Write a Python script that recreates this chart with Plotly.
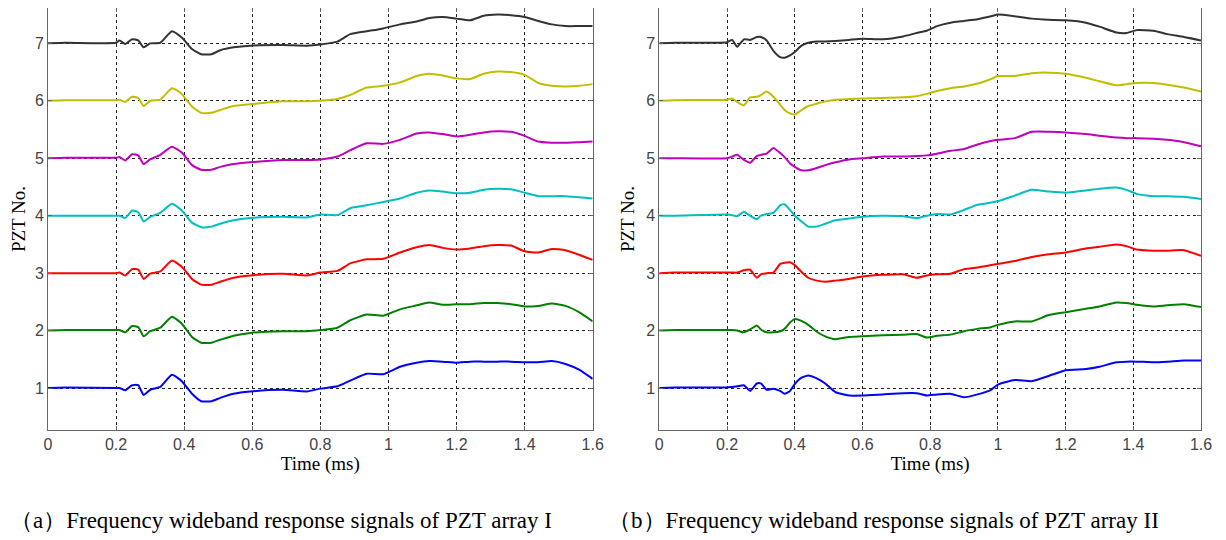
import plotly.graph_objects as go
from plotly.subplots import make_subplots

# === Data: time axis (ms) and offset signals for each PZT ===
t_a = [0, 0.05, 0.2, 0.21, 0.227, 0.247, 0.265, 0.281, 0.30, 0.33,
       0.364, 0.393, 0.423, 0.45, 0.48, 0.506, 0.545, 0.594, 0.69, 0.76,
       0.8, 0.85, 0.888, 0.936, 0.985, 1.034, 1.083, 1.12, 1.16, 1.2,
       1.24, 1.28, 1.32, 1.36, 1.40, 1.44, 1.48, 1.52, 1.56, 1.6]

a7 = [7.0, 7.01, 7.01, 7.05, 6.99, 7.07, 7.05, 6.93, 7.0, 7.01,
      7.21, 7.10, 6.90, 6.81, 6.81, 6.88, 6.93, 6.96, 6.97, 6.96,
      6.98, 7.03, 7.16, 7.21, 7.26, 7.33, 7.38, 7.44, 7.46, 7.43,
      7.40, 7.48, 7.50, 7.49, 7.46, 7.39, 7.33, 7.30, 7.30, 7.30]
a6 = [6.0, 6.01, 6.01, 6.02, 5.98, 6.07, 6.05, 5.91, 6.0, 6.02,
      6.22, 6.12, 5.90, 5.79, 5.79, 5.84, 5.91, 5.94, 5.99, 5.99,
      6.0, 6.03, 6.10, 6.23, 6.26, 6.32, 6.43, 6.47, 6.44, 6.39,
      6.38, 6.47, 6.51, 6.50, 6.45, 6.31, 6.26, 6.25, 6.26, 6.29]
a5 = [5.0, 5.01, 5.01, 5.02, 4.96, 5.07, 5.05, 4.90, 4.98, 5.06,
      5.20, 5.10, 4.88, 4.80, 4.80, 4.85, 4.90, 4.93, 4.97, 4.97,
      4.98, 5.03, 5.14, 5.26, 5.25, 5.32, 5.43, 5.45, 5.42, 5.38,
      5.41, 5.45, 5.47, 5.46, 5.39, 5.29, 5.27, 5.27, 5.28, 5.29]
a4 = [4.0, 4.0, 4.0, 4.0, 3.96, 4.09, 4.06, 3.90, 3.98, 4.05,
      4.21, 4.09, 3.88, 3.80, 3.81, 3.86, 3.92, 3.96, 3.98, 3.97,
      4.02, 4.01, 4.13, 4.18, 4.24, 4.30, 4.40, 4.44, 4.42, 4.39,
      4.40, 4.45, 4.47, 4.46, 4.40, 4.34, 4.34, 4.34, 4.32, 4.30]
a3 = [3.0, 3.0, 3.0, 3.01, 2.96, 3.07, 3.06, 2.90, 2.99, 3.03,
      3.22, 3.11, 2.90, 2.80, 2.80, 2.85, 2.92, 2.96, 2.99, 2.96,
      3.01, 3.04, 3.17, 3.24, 3.25, 3.36, 3.45, 3.49, 3.44, 3.41,
      3.43, 3.47, 3.49, 3.48, 3.38, 3.36, 3.42, 3.40, 3.32, 3.23]
a2 = [2.0, 2.01, 2.01, 2.01, 1.97, 2.08, 2.06, 1.90, 1.99, 2.05,
      2.24, 2.12, 1.89, 1.79, 1.79, 1.84, 1.91, 1.96, 1.99, 1.99,
      2.01, 2.05, 2.18, 2.28, 2.26, 2.37, 2.44, 2.49, 2.45, 2.46,
      2.46, 2.48, 2.48, 2.46, 2.42, 2.43, 2.47, 2.43, 2.32, 2.16]
a1 = [1.0, 1.01, 1.0, 1.0, 0.96, 1.05, 1.05, 0.88, 0.97, 1.02,
      1.23, 1.12, 0.90, 0.77, 0.77, 0.83, 0.90, 0.94, 0.97, 0.94,
      0.99, 1.03, 1.13, 1.25, 1.24, 1.37, 1.44, 1.47, 1.46, 1.44,
      1.46, 1.46, 1.46, 1.46, 1.45, 1.45, 1.47, 1.42, 1.32, 1.16]

t_b = [0, 0.045, 0.2, 0.215, 0.23, 0.25, 0.268, 0.288, 0.30, 0.317,
       0.337, 0.357, 0.37, 0.386, 0.40, 0.42, 0.44, 0.465, 0.49, 0.52,
       0.56, 0.60, 0.66, 0.72, 0.76, 0.79, 0.82, 0.86, 0.90, 0.94,
       0.98, 1.0, 1.05, 1.1, 1.15, 1.2, 1.26, 1.3, 1.35, 1.38,
       1.41, 1.46, 1.5, 1.55, 1.6]

b7 = [7.0, 7.01, 7.02, 7.06, 6.94, 7.07, 7.06, 7.11, 7.11, 7.05,
      6.87, 6.76, 6.75, 6.79, 6.85, 6.96, 7.01, 7.03, 7.03, 7.04,
      7.06, 7.08, 7.07, 7.12, 7.18, 7.22, 7.30, 7.36, 7.39, 7.42,
      7.47, 7.50, 7.47, 7.43, 7.41, 7.40, 7.36, 7.29, 7.19, 7.18,
      7.23, 7.22, 7.16, 7.11, 7.05]
b6 = [6.0, 6.01, 6.02, 6.04, 5.98, 5.92, 6.06, 6.07, 6.10, 6.16,
      6.07, 5.93, 5.84, 5.78, 5.76, 5.84, 5.91, 5.95, 5.99, 6.02,
      6.03, 6.04, 6.05, 6.06, 6.08, 6.12, 6.17, 6.22, 6.25, 6.30,
      6.38, 6.43, 6.43, 6.48, 6.49, 6.47, 6.40, 6.34, 6.27, 6.29,
      6.31, 6.31, 6.28, 6.23, 6.16]
b5 = [5.0, 5.0, 5.0, 5.03, 5.06, 4.97, 4.92, 5.04, 5.06, 5.08,
      5.18, 5.09, 5.02, 4.91, 4.85, 4.79, 4.79, 4.83, 4.88, 4.93,
      4.98, 5.00, 5.03, 5.03, 5.04, 5.05, 5.08, 5.13, 5.16, 5.24,
      5.30, 5.32, 5.35, 5.46, 5.46, 5.45, 5.42, 5.39, 5.36, 5.35,
      5.35, 5.34, 5.32, 5.28, 5.21]
b4 = [4.0, 4.0, 4.02, 4.01, 3.99, 4.07, 4.0, 3.94, 4.0, 4.03,
      4.05, 4.18, 4.20, 4.10, 4.0, 3.90, 3.81, 3.81, 3.86, 3.92,
      3.95, 3.98, 4.0, 3.99, 3.96, 4.0, 4.03, 4.02, 4.10, 4.19,
      4.23, 4.25, 4.35, 4.45, 4.42, 4.40, 4.44, 4.47, 4.49, 4.45,
      4.38, 4.34, 4.34, 4.33, 4.29]
b3 = [3.0, 3.01, 3.01, 3.01, 3.01, 3.05, 3.06, 2.92, 2.98, 3.0,
      3.01, 3.16, 3.18, 3.19, 3.14, 3.02, 2.92, 2.87, 2.85, 2.87,
      2.90, 2.94, 2.97, 2.98, 2.92, 2.96, 2.98, 2.99, 3.07, 3.10,
      3.14, 3.16, 3.21, 3.28, 3.33, 3.36, 3.43, 3.46, 3.50, 3.47,
      3.41, 3.39, 3.39, 3.40, 3.30]
b2 = [2.0, 2.01, 2.01, 2.01, 2.0, 1.97, 2.02, 2.09, 2.02, 1.97,
      1.97, 1.99, 2.03, 2.14, 2.20, 2.17, 2.10, 1.98, 1.90, 1.85,
      1.89, 1.90, 1.92, 1.93, 1.94, 1.88, 1.91, 1.93, 1.99, 2.03,
      2.06, 2.10, 2.16, 2.16, 2.27, 2.32, 2.38, 2.42, 2.49, 2.48,
      2.45, 2.42, 2.44, 2.46, 2.41]
b1 = [1.0, 1.01, 1.01, 1.02, 1.03, 1.05, 0.95, 1.08, 1.08, 0.97,
      0.99, 0.95, 0.90, 0.95, 1.07, 1.18, 1.22, 1.17, 1.08, 0.93,
      0.87, 0.87, 0.89, 0.91, 0.91, 0.87, 0.89, 0.90, 0.84, 0.89,
      0.97, 1.06, 1.14, 1.12, 1.21, 1.31, 1.33, 1.37, 1.45, 1.46,
      1.46, 1.45, 1.46, 1.48, 1.48]

colores = ["#0000ff", "#008000", "#ff0000", "#00bfbf", "#bf00bf", "#bfbf00", "#333333"]
panel_a = [a1, a2, a3, a4, a5, a6, a7]
panel_b = [b1, b2, b3, b4, b5, b6, b7]

captions = ["（a）Frequency wideband response signals of PZT array I",
            "（b）Frequency wideband response signals of PZT array II"]

# === Figura ===
fig = make_subplots(rows=1, cols=2)

for col, (tt, series) in enumerate([(t_a, panel_a), (t_b, panel_b)], start=1):
    for y, c in zip(series, colores):
        fig.add_trace(go.Scatter(x=tt, y=y, mode="lines",
                                 line=dict(color=c, width=2, shape="spline", smoothing=0.5),
                                 showlegend=False), row=1, col=col)

eje_x = dict(range=[0, 1.6], tickvals=[0, 0.2, 0.4, 0.6, 0.8, 1, 1.2, 1.4, 1.6],
             ticktext=["0", "0.2", "0.4", "0.6", "0.8", "1", "1.2", "1.4", "1.6"],
             showline=True, mirror="ticks", linecolor="#666666", linewidth=1,
             ticks="inside", ticklen=4, tickcolor="#666666",
             showgrid=True, gridcolor="#222222", gridwidth=1, griddash="3px,3px",
             zeroline=False, automargin=False,
             tickfont=dict(family="Liberation Sans", size=16, color="#444444"),
             title=dict(text="Time (ms)", standoff=2,
                        font=dict(family="Liberation Serif", size=19, color="black")))
eje_y = dict(range=[0.27, 7.615], tickvals=[1, 2, 3, 4, 5, 6, 7],
             showline=True, mirror="ticks", linecolor="#666666", linewidth=1,
             ticks="inside", ticklen=4, tickcolor="#666666",
             showgrid=True, gridcolor="#222222", gridwidth=1, griddash="3px,3px",
             zeroline=False, automargin=False,
             tickfont=dict(family="Liberation Sans", size=16, color="#444444"),
             title=dict(text="PZT No.", standoff=6,
                        font=dict(family="Liberation Serif", size=19, color="black")))

fig.update_xaxes(**eje_x)
fig.update_yaxes(**eje_y)
fig.update_layout(
    xaxis=dict(domain=[0, 0.4724]),
    xaxis2=dict(domain=[0.5302, 1.0]),
    yaxis=dict(domain=[0, 1]),
    yaxis2=dict(domain=[0, 1]),
    width=1218, height=532,
    margin=dict(l=40, r=25, t=0, b=110),
    plot_bgcolor="white", paper_bgcolor="white",
)

for xpos, txt in zip([-0.0345, 0.4836], captions):
    fig.add_annotation(text=txt, x=xpos, y=-0.2156, xref="paper", yref="paper",
                       xanchor="left", yanchor="middle", showarrow=False,
                       font=dict(family="Liberation Serif", size=23, color="black"))

fig.write_html("out.html")
